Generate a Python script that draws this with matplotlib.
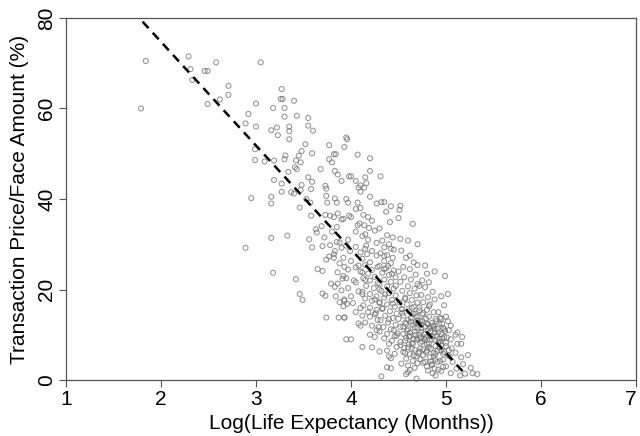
import matplotlib
matplotlib.use("Agg")
import matplotlib.pyplot as plt
import matplotlib.transforms as mtransforms
import numpy as np

plt.rcParams['font.family'] = ['Liberation Sans', 'DejaVu Sans']

# ---- data: log(life expectancy in months) vs transaction price / face amount (%) ----
# sparse upper-left group
x_sparse = [1.79,1.84,2.29,2.31,2.33,2.46,2.49,2.49,2.58,2.62,
            2.71,2.71,2.89,2.92,3.00,3.00,3.05,2.99,2.99,3.09,
            2.95,2.89,3.16,3.18,3.22,3.27,3.26,3.28,3.30,3.30,
            3.23,3.35,3.35,3.35,3.40,3.43,3.55,3.55,3.60,3.59,
            3.52,3.48,3.45,3.47,3.42,3.41,3.31,3.30,3.19,3.19,
            3.27,3.27,3.16,3.16,3.16,3.18,3.33,3.34,3.37,3.40,
            3.43,3.48,3.47,3.46,3.42,3.46,3.49,3.53,3.57,3.55,
            3.59,3.58,3.58,3.59,3.56,3.63,3.64,3.68,3.70,3.65,
            3.70,3.70,3.73,3.74,3.73,3.74,3.77,3.77,3.80,3.82,
            3.84,3.83,3.86,3.90,3.93,3.95,3.74,3.75,3.83,3.85]
y_sparse = [60,70.5,71.5,68.7,66.3,68.3,68.3,61,70.2,62,
            65,63,56.7,58.8,61.1,56,70.2,51,48.6,48.3,
            40.2,29.2,55.2,60.1,55.8,64.3,62.1,62.1,60.1,58.2,
            54.1,56,55,53.2,61.7,58.4,57.9,56.2,55.1,50.1,
            52.1,50.6,49.6,48.1,48.5,47,49.6,48.8,48.5,44.2,
            43.4,41.6,40.5,39,31.4,23.7,31.9,46,41.5,41.2,
            46.6,43.1,42,38.1,22.3,19,17.7,40,39.2,44.8,
            43.8,42.2,36.3,29.3,31.1,33.3,32.6,46.6,29.6,24.5,
            24.1,19.1,18.6,13.8,42.9,42.3,51.9,48.8,48.1,49.9,
            49.9,46.2,45.4,44,51.5,53.6,40.7,39.2,40.1,39.2]

x_b2 = [3.73,3.78,3.82,3.86,3.90,3.69,3.80,3.72,3.85,3.78,
        3.90,3.83,3.77,3.82,3.74,3.88,3.93,3.86,3.91,3.79,
        3.83,3.90,3.84,3.93,3.88,3.92,3.87,3.93]
y_b2 = [36.5,36.3,36,36.8,35.5,34,32.8,31.5,30.5,29.8,
        29.2,28.5,27.3,27,26.6,25.8,25,23.8,22.4,21.3,
        20.6,19.8,18.5,17.5,17.2,16.3,13.8,13.8]

x_b3 = [3.96,4.07,3.98,4.00,4.05,4.10,4.08,4.10,3.95,3.97,
        4.07,4.05,4.00,3.92,3.98,4.07,4.09,3.85,4.05,4.12,
        3.97,3.88,3.95,4.05,3.99,4.10,3.82,3.92,4.00,4.08,
        3.97,4.12,3.92,3.95,4.03,4.05,3.86,3.97,4.08,4.12,
        4.00,3.93,4.02,3.96,4.10,4.05,4.12,3.93,4.08,4.10,
        3.95,4.00,4.12]
y_b3 = [53.2,49.8,45,45,44,43,42.5,41.6,40,39.2,
        39.2,37.8,36,35.6,36.3,34.2,34.6,33.8,32.8,31.8,
        31,30.4,29.7,29.4,28.5,28.2,27.8,27,26.3,25.3,
        24.4,23.8,23,22.5,22,21.6,21.3,20.3,19.6,19,
        18.5,17.8,17,16.8,15.9,15,14.2,13.8,12.5,12,
        9,9,7.3]

x_b4 = [4.20,4.20,4.15,4.16,4.14,4.20,4.27,4.10,4.13,4.18,
        4.22,4.14,4.19,4.25,4.15,4.18,4.27,4.16,4.15,4.22,
        4.17,4.27,4.12,4.20,4.15,4.28,4.22,4.10,4.18,4.25,
        4.13,4.20,4.28,4.16,4.24,4.30,4.12,4.20,4.27,4.15,
        4.22,4.30,4.13,4.20,4.27,4.18,4.25,4.20,4.28,4.15,
        4.22,4.27,4.20,4.25,4.22,4.30]
y_b4 = [49,46.2,44.8,43.5,42.5,40.5,39,38,36.5,36,
        35.2,34.2,33.6,33,32.2,31,30.3,29.7,29,28.5,
        27.8,27.5,26.8,26,25.4,25,24.3,24,23.5,22.8,
        22.5,22,21.4,20.8,20.3,20,19.5,19,18.5,18,
        17.5,17,16.5,16,15.5,15,14.5,14,13.3,12.7,
        12,11,10,9.5,7.2,6.3]

x_b5 = [4.31,4.32,4.35,4.42,4.37,4.41,4.30,4.38,4.44,4.33,
        4.40,4.35,4.42,4.45,4.31,4.38,4.44,4.35,4.42,4.30,
        4.37,4.45,4.33,4.40,4.47,4.35,4.42,4.30,4.38,4.45,
        4.32,4.40,4.47,4.35,4.43,4.30,4.38,4.46,4.33,4.41,
        4.48,4.36,4.44,4.31,4.39,4.47,4.34,4.42,4.30,4.38,
        4.46,4.35,4.43,4.40,4.48,4.38,4.40,4.42,4.38,4.42,
        4.32]
y_b5 = [45,39.3,39.3,38.4,37.2,34.9,33.5,32,31.5,30.8,
        30,29.3,29,28.8,28,27.6,27,26.3,25.8,25.2,
        24.7,24.2,23.7,23.2,22.7,22.2,21.7,21.2,20.7,20.2,
        19.7,19.2,18.7,18.2,17.7,17.2,16.7,16.2,15.7,15.2,
        14.7,14.2,13.7,13.2,12.7,12.2,11.7,11.2,10.7,10.2,
        9.7,9.2,8.7,8,7.3,6.5,5.2,4.8,2.8,2.6,
        0.8]

x_b6 = [4.52,4.51,4.50,4.65,4.52,4.60,4.70,4.53,4.62,4.58,
        4.66,4.70,4.55,4.62,4.50,4.68,4.56,4.63,4.52,4.70,
        4.60,4.67,4.54,4.62,4.69,4.57,4.64,4.51,4.59,4.66,
        4.53,4.61,4.68,4.55,4.63,4.70,4.57,4.65,4.52,4.60,
        4.67,4.55,4.62,4.69,4.57,4.64,4.52,4.60,4.67,4.55,
        4.62,4.69,4.58,4.65,4.70,4.62,4.60,4.58,4.69]
y_b6 = [38.5,37.6,35.8,34.5,31.2,30.8,30,28.6,27.5,27,
        26,25.4,25,24.5,24,23.3,22.7,22.2,21.7,21.2,
        20.7,20.2,19.7,19.2,18.7,18.2,17.7,17.2,16.7,16.2,
        15.7,15.2,14.7,14.2,13.7,13.2,12.7,12.2,11.7,11.2,
        10.7,10.2,9.7,9.2,8.7,8.2,7.7,7.2,6.7,6.2,
        5.7,5.2,4.7,4.2,3.7,2.2,1.7,1.3,0.3]

x_b7 = [4.78,4.88,4.80,4.75,4.82,4.72,4.78,4.86,4.74,4.81,
        4.88,4.76,4.83,4.72,4.80,4.87,4.75,4.82,4.89,4.73,
        4.80,4.86,4.74,4.81,4.88,4.72,4.79,4.85,4.75,4.82,
        4.89,4.73,4.80,4.87,4.76,4.83,4.89,4.78,4.85,4.80,
        4.88,4.86,4.89]
y_b7 = [25.3,24,23.5,22,21.6,20.8,20.5,19.5,18.8,18.3,
        17.8,17.2,16.7,16,15.5,15,14.5,14,13.5,13,
        12.5,12,11.5,11,10.5,10,9.5,9,8.5,8,
        7.5,7,6.5,6,5.5,5,4.5,4,3.5,3,
        2.5,1.5,1]

x_b8 = [4.99,5.02,4.95,4.98,4.92,5.00,4.95,5.02,4.93,5.05,
        4.97,5.03,4.92,5.10,4.98,5.05,4.94,5.12,5.00,5.06,
        4.95,5.10,5.02,5.16,4.97,5.07,5.18,5.00,5.11,4.95,
        5.05,5.15,5.20,5.26,5.28,5.33,5.23,5.17,5.16,5.12,
        4.92]
y_b8 = [23,19,18.5,16.5,15,14,13.5,13,12.5,12,
        11.5,11,10.5,10,9.5,9,8.5,8,7.5,7,
        6.5,6,5.5,5,4.5,4,3.5,3,2.5,2,
        1.5,1,1.4,2.7,1.5,1.3,5.5,9.5,8,10.5,
        2.3]

x_core = [4.62,4.66,4.70,4.73,4.77,4.84,4.90,4.93,4.97,4.68,
          4.74,4.79,4.85,4.91,4.96,4.99,4.64,4.71,4.76,4.82,
          4.88,4.94,4.98,4.58,4.55,4.60,4.66,4.72,4.78,4.83,
          4.87,4.91,4.95,4.76,4.81,4.84,4.70,4.61,4.67,4.73,
          4.48,4.50,4.54,4.57,4.47,4.43,4.39,4.35,4.44,4.46]
y_core = [10.5,9,11.5,8.2,10.2,10.8,9.8,7.2,5.8,12.8,
          12.2,13.6,12.6,11.3,9.2,10.8,6.9,5.9,6.8,7.3,
          8.8,4.2,6.2,9.3,11.8,13.3,14.6,15.4,11.8,9.7,
          5.2,6.4,10.1,3.8,2.1,4.1,8.9,7.9,11.6,9.3,
          9.8,13.5,15.6,17.9,20.8,23.5,25.2,27.4,16.9,5.8]

x_core2 = [4.52,4.56,4.59,4.63,4.66,4.69,4.72,4.75,4.78,4.81,
           4.84,4.87,4.90,4.93,4.96,5.00,5.03,4.54,4.58,4.61,
           4.65,4.68,4.71,4.74,4.77,4.80,4.83,4.86,4.89,4.92,
           4.95,4.98,5.01,5.04,4.57,4.64,4.70,4.76,4.82,4.88,
           4.94,4.60,4.67,4.73,4.79,4.85,4.91,4.97,4.40,4.36,
           4.33,4.29,4.26,4.45,4.49,4.53,4.05,4.15,4.25,4.35]
y_core2 = [8.4,7.1,10.9,12.9,5.4,14.1,6.3,13.1,8.9,12.3,
           6.9,11.8,13.0,9.1,12.4,8.2,6.6,14.8,12.4,9.6,
           8.0,10.0,12.6,10.6,9.1,7.9,11.5,9.6,5.8,8.3,
           7.7,11.2,9.4,5.2,6.0,15.9,17.1,14.8,16.3,11.3,
           13.8,3.2,2.7,4.6,6.1,3.3,4.0,2.9,13.4,18.9,
           15.9,11.7,14.8,11.0,10.3,3.6,24.9,22.1,17.8,24.5]

# fitted regression line (intercept, slope) and its drawn x-range
fit_intercept = 120.6
fit_slope = -22.93
fit_x_range = [1.70, 5.22]

x_ticks = [1, 2, 3, 4, 5, 6, 7]
y_ticks = [0, 20, 40, 60, 80]
x_label = "Log(Life Expectancy (Months))"
y_label = "Transaction Price/Face Amount (%)"

# ---- figure ----
fig = plt.figure(figsize=(6.4, 4.36), dpi=100)
ax = fig.add_axes([66/640, 1-380/436, (636-66)/640, (380-18)/436])

all_x = np.concatenate([x_sparse, x_b2, x_b3, x_b4, x_b5, x_b6, x_b7, x_b8, x_core, x_core2])
all_y = np.concatenate([y_sparse, y_b2, y_b3, y_b4, y_b5, y_b6, y_b7, y_b8, y_core, y_core2])

ax.scatter(all_x, all_y, s=13, facecolors='none', edgecolors='#707070',
           linewidths=0.75, alpha=0.75, clip_on=False, zorder=2)

xl = np.array(fit_x_range)
ax.plot(xl, fit_intercept + fit_slope * xl, color='black', lw=1.8,
        ls=(0, (3.5, 2.5)), zorder=3)

ax.set_xlim(1, 7)
ax.set_ylim(0, 80)
ax.set_xticks(x_ticks)
ax.set_yticks(y_ticks)
ax.set_xticklabels([str(t) for t in x_ticks], fontsize=15)
ax.set_yticklabels([str(t) for t in y_ticks], fontsize=15, rotation=90, va='center')
ax.tick_params(direction='out', length=5, width=0.8, color='#555555', pad=2)
for s in ax.spines.values():
    s.set_color('#555555')
    s.set_linewidth(0.9)

# keep the last x tick label inside the canvas
last = ax.get_xticklabels()[-1]
last.set_transform(last.get_transform() +
                   mtransforms.ScaledTranslation(-4/72, 0, fig.dpi_scale_trans))

ax.set_xlabel(x_label, fontsize=15, labelpad=4)
ax.set_ylabel(y_label, fontsize=15, labelpad=6)

fig.savefig("out.png", dpi=100)
